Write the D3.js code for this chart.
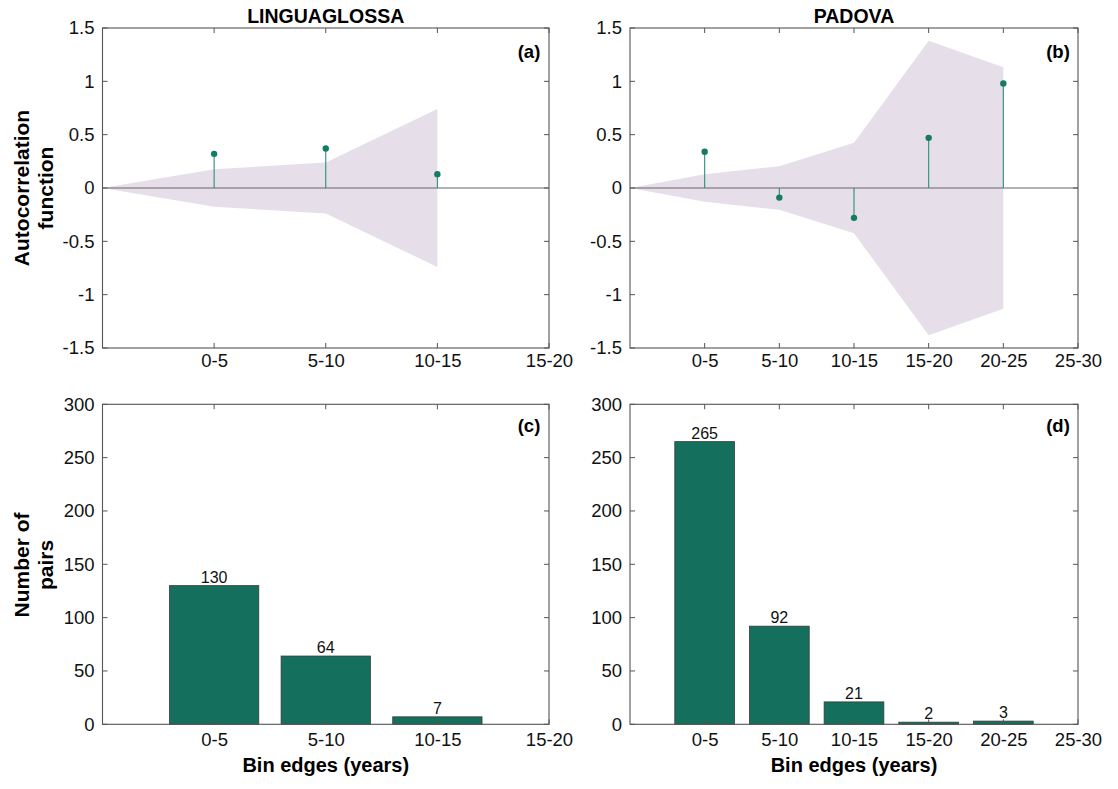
<!DOCTYPE html>
<html>
<head>
<meta charset="utf-8">
<script src="https://cdn.jsdelivr.net/npm/d3@7"></script>
<style>
  body { margin: 0; background: #fff; }
  svg { font-family: "Liberation Sans", Arial, sans-serif; }
</style>
</head>
<body>
<svg id="chart" width="1118" height="789"></svg>
<script>
// Lag bins (years) shown on the x axes
const binsLing = ["0-5", "5-10", "10-15", "15-20"];
const binsPad = ["0-5", "5-10", "10-15", "15-20", "20-25", "25-30"];

// Autocorrelation per lag bin
const acfLing = [0.32, 0.37, 0.13];
const acfPad = [0.34, -0.09, -0.28, 0.47, 0.98];

// Half-width of the confidence band (starts at 0 at lag origin)
const bandLing = [0, 0.175, 0.24, 0.74];
const bandPad = [0, 0.13, 0.205, 0.425, 1.38, 1.133];

// Number of pairs per lag bin
const pairsLing = [130, 64, 7];
const pairsPad = [265, 92, 21, 2, 3];

const acfTicks = [-1.5, -1, -0.5, 0, 0.5, 1, 1.5];
const pairTicks = [0, 50, 100, 150, 200, 250, 300];

const C = {
  axis: "#555",
  band: "#e6dee9",
  stem: "#2a8f7e",
  dot: "#157a66",
  bar: "#146f5d",
  barEdge: "#3a3a3a",
  text: "#111"
};
const FS = { tick: 18.5, title: 19.5, panel: 18.5, ytitle: 21, xtitle: 20, value: 16 };
const FONT = '"Liberation Sans", Arial, sans-serif';

const svg = d3.select("#chart");

const cols = [
  { left: 102.5, right: 549, bins: binsLing },
  { left: 630, right: 1078, bins: binsPad }
];
const rows = [
  { top: 28, bottom: 348 },
  { top: 404.3, bottom: 724.3 }
];

function frame(g, x, y, yTicks, bins, pad) {
  const [x0, x1] = x.range();
  const [y0, y1] = y.range(); // y0 bottom, y1 top
  const tl = 5;
  const xt = d3.range(1, bins.length + 1);
  // left axis labels
  g.append("g").attr("transform", `translate(${x0},0)`)
    .call(d3.axisLeft(y).tickValues(yTicks).tickFormat(d => String(d)).tickSize(0).tickPadding(8))
    .call(a => a.select(".domain").remove())
    .call(a => a.attr("font-family", FONT).attr("font-size", FS.tick))
    .call(a => a.selectAll("text").attr("fill", C.text));
  // bottom labels
  g.append("g").attr("transform", `translate(0,${y0})`)
    .call(d3.axisBottom(x).tickValues(xt).tickFormat(i => bins[i - 1]).tickSize(0).tickPadding(pad))
    .call(a => a.select(".domain").remove())
    .call(a => a.attr("font-family", FONT).attr("font-size", FS.tick))
    .call(a => a.selectAll("text").attr("fill", C.text));
  // inward ticks on all four sides
  const tg = g.append("g").attr("stroke", C.axis).attr("stroke-width", 1);
  yTicks.forEach(v => {
    tg.append("line").attr("x1", x0).attr("x2", x0 + tl).attr("y1", y(v)).attr("y2", y(v));
    tg.append("line").attr("x1", x1).attr("x2", x1 - tl).attr("y1", y(v)).attr("y2", y(v));
  });
  xt.forEach(v => {
    tg.append("line").attr("x1", x(v)).attr("x2", x(v)).attr("y1", y0).attr("y2", y0 - tl);
    tg.append("line").attr("x1", x(v)).attr("x2", x(v)).attr("y1", y1).attr("y2", y1 + tl);
  });
  // box
  g.append("rect").attr("x", x0).attr("y", y1).attr("width", x1 - x0).attr("height", y0 - y1)
    .attr("fill", "none").attr("stroke", C.axis).attr("stroke-width", 1.1);
}

function acfPanel(col, row, acf, band, label, title) {
  const g = svg.append("g");
  const x = d3.scaleLinear().domain([0, col.bins.length]).range([col.left, col.right]);
  const y = d3.scaleLinear().domain([-1.5, 1.5]).range([row.bottom, row.top]);
  const lags = d3.range(band.length);
  const area = d3.area().x(d => x(d)).y0(d => y(-band[d])).y1(d => y(band[d]));
  g.append("path").datum(lags).attr("d", area).attr("fill", C.band);
  g.append("line").attr("x1", x(0)).attr("x2", x(col.bins.length)).attr("y1", y(0)).attr("y2", y(0))
    .attr("stroke", "#666").attr("stroke-width", 1.2);
  g.selectAll(".stem").data(acf).join("line")
    .attr("x1", (d, i) => x(i + 1)).attr("x2", (d, i) => x(i + 1))
    .attr("y1", y(0)).attr("y2", d => y(d))
    .attr("stroke", C.stem).attr("stroke-width", 1.1);
  g.selectAll(".dot").data(acf).join("circle")
    .attr("cx", (d, i) => x(i + 1)).attr("cy", d => y(d)).attr("r", 3.2)
    .attr("fill", C.dot);
  frame(g, x, y, acfTicks, col.bins, 6);
  g.append("text").attr("x", x.range()[1] - 20).attr("y", row.top + 30)
    .attr("text-anchor", "middle").attr("font-weight", "bold").attr("font-size", FS.panel).text(label);
  g.append("text").attr("x", (col.left + col.right) / 2).attr("y", 23)
    .attr("text-anchor", "middle").attr("font-weight", "bold").attr("font-size", FS.title).text(title);
}

function barPanel(col, row, pairs, label) {
  const g = svg.append("g");
  const x = d3.scaleLinear().domain([0, col.bins.length]).range([col.left, col.right]);
  const y = d3.scaleLinear().domain([0, 300]).range([row.bottom, row.top]);
  const w = 0.8;
  g.selectAll(".bar").data(pairs).join("rect")
    .attr("x", (d, i) => x(i + 1 - w / 2)).attr("width", x(w) - x(0))
    .attr("y", d => y(d)).attr("height", d => y(0) - y(d))
    .attr("fill", C.bar).attr("stroke", C.barEdge).attr("stroke-width", 0.8);
  g.selectAll(".val").data(pairs).join("text")
    .attr("x", (d, i) => x(i + 1)).attr("y", d => y(d) - 3)
    .attr("text-anchor", "middle").attr("font-size", FS.value).attr("fill", C.text).text(d => d);
  frame(g, x, y, pairTicks, col.bins, 9);
  g.append("text").attr("x", x.range()[1] - 20).attr("y", row.top + 28)
    .attr("text-anchor", "middle").attr("font-weight", "bold").attr("font-size", FS.panel).text(label);
  g.append("text").attr("x", (col.left + col.right) / 2).attr("y", 772)
    .attr("text-anchor", "middle").attr("font-weight", "bold").attr("font-size", FS.xtitle).text("Bin edges (years)");
}

acfPanel(cols[0], rows[0], acfLing, bandLing, "(a)", "LINGUAGLOSSA");
acfPanel(cols[1], rows[0], acfPad, bandPad, "(b)", "PADOVA");
barPanel(cols[0], rows[1], pairsLing, "(c)");
barPanel(cols[1], rows[1], pairsPad, "(d)");

// y-axis titles (two lines, rotated)
function yTitle(lines, cy) {
  const t = svg.append("text").attr("transform", `translate(0,${cy}) rotate(-90)`)
    .attr("text-anchor", "middle").attr("font-weight", "bold").attr("font-size", FS.ytitle);
  lines.forEach((s, i) => t.append("tspan").attr("x", 0).attr("y", 29 + i * 24).text(s));
}
yTitle(["Autocorrelation", "function"], 188);
yTitle(["Number of", "pairs"], 565);
</script>
</body>
</html>
